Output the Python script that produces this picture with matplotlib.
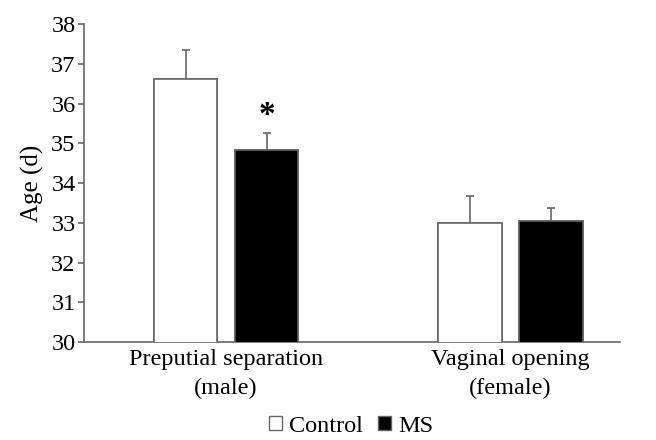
import numpy as np
import matplotlib.pyplot as plt
from matplotlib.patches import Patch

plt.rcParams['font.family'] = ['Liberation Serif', 'DejaVu Serif']

groups = ['Preputial separation\n(male)', 'Vaginal opening\n(female)']
control = [36.62, 33.0]
control_err = [0.72, 0.67]
ms = [34.83, 33.04]
ms_err = [0.43, 0.33]

gray = '#666666'
x = np.arange(len(groups))
w = 0.225
off = 0.1426

fig = plt.figure(figsize=(6.56, 4.4), dpi=100)
ax = fig.add_axes([84/656, 1-342/440, 536/656, 318/440])

ekw = dict(ecolor=gray, elinewidth=1.2, capsize=3, capthick=1.2)
ax.bar(x - off, control, w, color='white', edgecolor=gray, linewidth=1.2,
       yerr=control_err, error_kw=ekw)
ax.bar(x + off, ms, w, color='black', edgecolor=gray, linewidth=1.2,
       yerr=ms_err, error_kw=ekw)
# cover lower half of the error bars
ax.bar(x - off, control, w, color='white', edgecolor=gray, linewidth=1.2, zorder=3)
ax.bar(x + off, ms, w, color='black', edgecolor=gray, linewidth=1.2, zorder=3)

ax.text(x[0] + off, ms[0] + ms_err[0] + 0.45, '*', ha='center', va='center',
        fontsize=24, fontweight='bold')

ax.set_ylim(30, 38)
ax.set_xlim(-0.5, 1.387)
ax.set_yticks(range(30, 39))
ax.set_xticks(x)
ax.set_xticklabels(groups, fontsize=17.5, linespacing=1.5)
ax.tick_params(axis='x', length=0, pad=5)
ax.tick_params(axis='y', labelsize=17.5, length=4, color=gray, width=1.2, pad=2)
ax.set_ylabel('Age (d)', fontsize=18, labelpad=5)
for s in ['top', 'right']:
    ax.spines[s].set_visible(False)
for s in ['left', 'bottom']:
    ax.spines[s].set_color(gray)
    ax.spines[s].set_linewidth(1.2)

handles = [Patch(facecolor='white', edgecolor=gray, label='Control'),
           Patch(facecolor='black', edgecolor=gray, label='MS')]
fig.legend(handles=handles, loc='center', bbox_to_anchor=(351/656, 1-426/440), ncol=2,
           frameon=False, fontsize=17.5, handlelength=0.55, handleheight=0.55,
           handletextpad=0.3, columnspacing=0.6, borderpad=0)

fig.savefig('out.png', dpi=100)
